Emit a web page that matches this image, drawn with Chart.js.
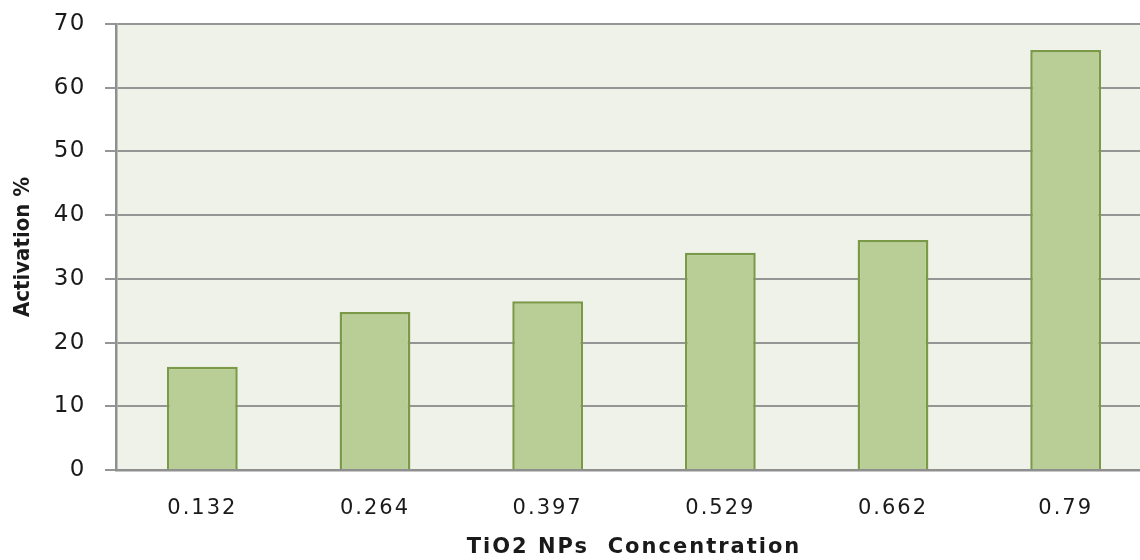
<!DOCTYPE html>
<html>
<head>
<meta charset="utf-8">
<script src="https://cdn.jsdelivr.net/npm/chart.js@4/dist/chart.umd.min.js"></script>
<style>
  html, body { margin: 0; padding: 0; background: #fff; overflow: hidden; }
  #wrap { width: 1152px; height: 560px; }
</style>
</head>
<body>
<div id="wrap"><canvas id="chart"></canvas></div>
<script>
// values
const concentrations = ['0.132', '0.264', '0.397', '0.529', '0.662', '0.79'];
const activation = [16.2, 24.8, 26.5, 34.1, 36.1, 65.9];
const yTicks = [0, 10, 20, 30, 40, 50, 60, 70];

// fill the plot area
const plotBg = {
    id: 'plotBg',
    beforeDraw(chart) {
        const a = chart.chartArea;
        const ctx = chart.ctx;
        ctx.save();
        ctx.fillStyle = '#eff2e9';
        ctx.fillRect(a.left, a.top, a.right - a.left, a.bottom - a.top);
        ctx.restore();
    }
};

// the reference text is wide, so draw some of it with a little letter spacing
function spaced(scale, method, px) {
    const orig = scale[method];
    if (orig._spaced) return;
    scale[method] = function (...args) {
        const ctx = this.ctx;
        const old = ctx.letterSpacing;
        ctx.letterSpacing = px + 'px';
        orig.apply(this, args);
        ctx.letterSpacing = old || '0px';
    };
    scale[method]._spaced = true;
}

new Chart(document.getElementById('chart'), {
    type: 'bar',
    data: {
        labels: concentrations,
        datasets: [{
            data: activation,
            backgroundColor: '#b9ce96',
            borderColor: '#7b9a47',
            borderWidth: 2.5,
            categoryPercentage: 1,
            barPercentage: 0.41
        }]
    },
    options: {
        responsive: true,
        maintainAspectRatio: false,
        animation: false,
        layout: { padding: { top: 24, left: 0, right: 0, bottom: 0 } },
        plugins: {
            legend: { display: false },
            tooltip: { enabled: false }
        },
        scales: {
            x: {
                grid: { display: false, drawTicks: false },
                border: { color: '#8f8f8f', width: 2.5 },
                ticks: {
                    color: '#1a1a1a',
                    font: { family: 'DejaVu Sans', size: 21 },
                    padding: 26
                },
                title: {
                    display: true,
                    text: 'TiO2 NPs  Concentration',
                    color: '#1a1a1a',
                    font: { family: 'DejaVu Sans', size: 21, weight: 'bold' },
                    padding: { top: 0, bottom: 0 }
                },
                afterFit(scale) {
                    scale.height = 90;
                    spaced(scale, 'drawLabels', 2);
                    spaced(scale, 'drawTitle', 2);
                }
            },
            y: {
                min: 0,
                max: 70,
                afterBuildTicks(scale) {
                    scale.ticks = yTicks.map(v => ({ value: v }));
                },
                grid: {
                    color: '#959595',
                    lineWidth: 2,
                    tickLength: 11,
                    tickColor: '#959595'
                },
                border: { color: '#8f8f8f', width: 2.5 },
                ticks: {
                    color: '#1a1a1a',
                    font: { family: 'DejaVu Sans', size: 23 },
                    padding: 19
                },
                title: {
                    display: true,
                    text: 'Activation %',
                    color: '#1a1a1a',
                    font: { family: "'DejaVu Sans Condensed', 'DejaVu Sans'", size: 22, weight: 'bold' },
                    padding: { top: 10, bottom: 0 }
                },
                afterFit(scale) {
                    scale.width = 116;
                    scale.paddingTop = 0;
                    scale.paddingBottom = 0;
                    spaced(scale, 'drawLabels', 1.5);
                }
            }
        }
    },
    plugins: [plotBg]
});
</script>
</body>
</html>
